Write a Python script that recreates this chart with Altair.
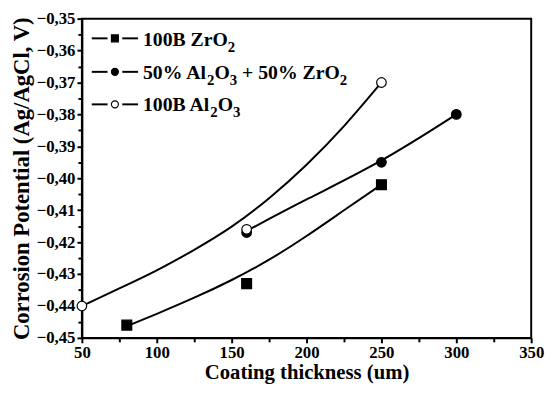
import altair as alt
import pandas as pd

# ---- measured points ----
x_zr = [80, 160, 250]
y_zr = [-0.446, -0.433, -0.402]
x_mix = [160, 250, 300]
y_mix = [-0.417, -0.395, -0.380]
x_al = [50, 160, 250]
y_al = [-0.440, -0.416, -0.370]

# ---- fitted curves ----
cx_zr = [80, 100, 125, 150, 175, 200, 225, 250]
cy_zr = [-0.4463, -0.4425, -0.4375, -0.4320, -0.4257, -0.4182, -0.4100, -0.4020]
cx_mix = [160, 200, 250, 300]
cy_mix = [-0.4165, -0.4065, -0.3950, -0.3800]
cx_al = [50, 75, 100, 125, 150, 175, 200, 225, 250]
cy_al = [-0.4400, -0.4345, -0.4290, -0.4225, -0.4155, -0.4065, -0.3960, -0.3840, -0.3700]

# legend labels as (text, is_subscript) pieces
legend_pieces = [
    [("100B ZrO", False), ("2", True)],
    [("50% Al", False), ("2", True), ("O", False), ("3", True), (" + 50% ZrO", False), ("2", True)],
    [("100B Al", False), ("2", True), ("O", False), ("3", True)],
]

x_major = [50, 100, 150, 200, 250, 300, 350]
x_minor = [75, 125, 175, 225, 275, 325]
y_major = [-0.45, -0.44, -0.43, -0.42, -0.41, -0.40, -0.39, -0.38, -0.37, -0.36, -0.35]
y_minor = [-0.445, -0.435, -0.425, -0.415, -0.405, -0.395, -0.385, -0.375, -0.365, -0.355]

FONT = "Liberation Serif"
W, H = 456, 324

xs = alt.Scale(domain=[50, 350], nice=False, zero=False)
ys = alt.Scale(domain=[-0.45, -0.35], nice=False, zero=False)

x_axis = alt.Axis(values=x_major, title="Coating thickness (um)", format="d",
                  labelFont=FONT, labelFontSize=17, labelFontWeight="bold", labelColor="black",
                  titleFont=FONT, titleFontSize=21, titleFontWeight="bold", titleColor="black",
                  titlePadding=1, labelPadding=2,
                  domainColor="black", domainWidth=2, tickColor="black", tickWidth=2, tickSize=5,
                  grid=False, labelFlush=False, orient="bottom")
y_axis = alt.Axis(values=y_major, title="Corrosion Potential (Ag/AgCl, V)",
                  labelExpr="replace(format(datum.value, '.2f'), '.', ',')",
                  labelFont=FONT, labelFontSize=17, labelFontWeight="bold", labelColor="black",
                  titleFont=FONT, titleFontSize=23, titleFontWeight="bold", titleColor="black",
                  titlePadding=3, labelPadding=2,
                  domainColor="black", domainWidth=2, tickColor="black", tickWidth=2, tickSize=5,
                  grid=False, labelFlush=False, orient="left")

x_axis_minor = alt.Axis(values=x_minor, labels=False, title=None, domain=False,
                        tickColor="black", tickWidth=2, tickSize=4, grid=False, orient="bottom")
y_axis_minor = alt.Axis(values=y_minor, labels=False, title=None, domain=False,
                        tickColor="black", tickWidth=2, tickSize=4, grid=False, orient="left")

def df(xv, yv):
    return pd.DataFrame({"x": xv, "y": yv})

def line(xv, yv, axes=False):
    return alt.Chart(df(xv, yv)).mark_line(color="black", strokeWidth=2,
                                            interpolate="basis", clip=False).encode(
        x=alt.X("x:Q", scale=xs, axis=x_axis if axes else None),
        y=alt.Y("y:Q", scale=ys, axis=y_axis if axes else None),
    )

def pts(xv, yv, shape, fill, size):
    return alt.Chart(df(xv, yv)).mark_point(shape=shape, fill=fill, stroke="black",
                                             strokeWidth=1.2, filled=False, opacity=1,
                                             fillOpacity=1, size=size, clip=False).encode(
        x=alt.X("x:Q", scale=xs, axis=None),
        y=alt.Y("y:Q", scale=ys, axis=None),
    )

minor = alt.Chart(df(x_minor[:1], y_minor[:1])).mark_point(opacity=0).encode(
    x=alt.X("x:Q", scale=xs, axis=x_axis_minor),
    y=alt.Y("y:Q", scale=ys, axis=y_axis_minor),
)

layers = [
    line(cx_zr, cy_zr, axes=True),
    minor,
    line(cx_mix, cy_mix),
    line(cx_al, cy_al),
    pts(x_zr, y_zr, "square", "black", 100),
    pts(x_mix, y_mix, "circle", "black", 95),
    pts(x_al, y_al, "circle", "white", 95),
]

# ---- legend (inside, top-left) ----
# Times-Bold advance widths (per 1000 em) for laying out the subscript pieces
ADV = {"1": 500, "0": 500, "5": 500, "2": 500, "3": 500, "B": 667, " ": 250, "Z": 667,
       "r": 444, "O": 778, "%": 1000, "A": 722, "l": 278, "+": 570}
MAIN_FS, SUB_FS = 20, 15

def text_w(s, fs):
    return sum(ADV.get(c, 500) for c in s) * fs / 1000.0

sym_y = [20, 54, 87]
base_y = [28, 61, 94]
marker_defs = [("square", "black", 49), ("circle", "black", 50), ("circle", "white", 50)]
for i, pieces in enumerate(legend_pieces):
    yy = sym_y[i]
    d = pd.DataFrame({"k": [0]})
    layers.append(alt.Chart(d).mark_rule(color="black", strokeWidth=2).encode(
        x=alt.value(10), x2=alt.value(26), y=alt.value(yy)))
    layers.append(alt.Chart(d).mark_rule(color="black", strokeWidth=2).encode(
        x=alt.value(41), x2=alt.value(57), y=alt.value(yy)))
    shp, fl, sz = marker_defs[i]
    layers.append(alt.Chart(d).mark_point(shape=shp, fill=fl, stroke="black",
                                          strokeWidth=1.2, filled=False, opacity=1,
                                          fillOpacity=1, size=sz).encode(
        x=alt.value(33.5), y=alt.value(yy)))
    xpos = 62.0
    for txt, sub in pieces:
        fs = SUB_FS if sub else MAIN_FS
        lead = len(txt) - len(txt.lstrip(" "))
        xpos += text_w(" " * lead, fs)
        shown = txt.lstrip(" ")
        dd = pd.DataFrame({"t": [shown]})
        layers.append(alt.Chart(dd).mark_text(font=FONT, fontSize=fs, fontWeight="bold",
                                              color="black", align="left",
                                              baseline="alphabetic").encode(
            x=alt.value(xpos), y=alt.value(base_y[i] + (6 if sub else 0)), text="t:N"))
        xpos += text_w(shown, fs)

chart = alt.layer(*layers).resolve_axis(
    x="independent", y="independent"
).resolve_scale(x="shared", y="shared").properties(
    width=W, height=H,
    background="white",
    autosize=alt.AutoSizeParams(type="none"),
    padding={"left": 75, "top": 8, "right": 14, "bottom": 44},
).configure_view(stroke="black", strokeWidth=2)

chart.save("out.html", embed_options={"renderer": "svg", "actions": False})
